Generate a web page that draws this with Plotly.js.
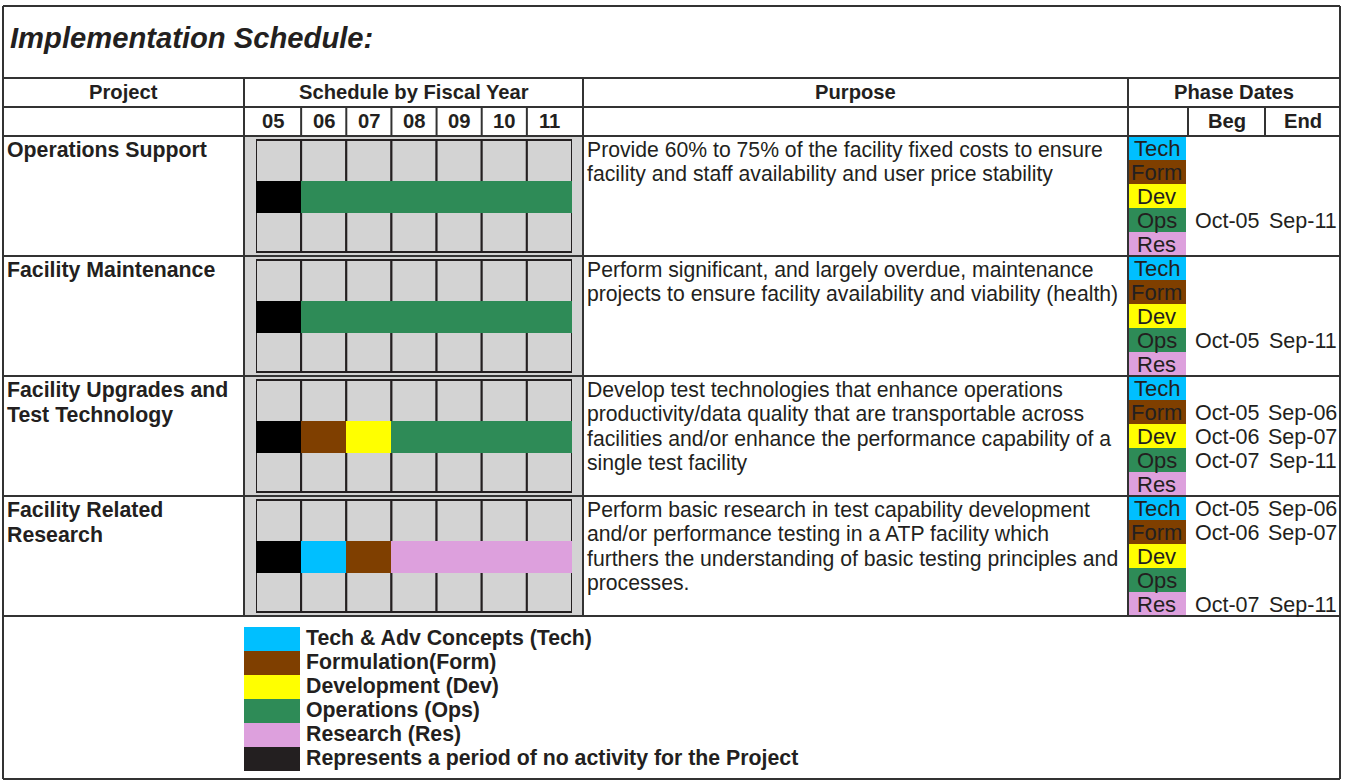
<!DOCTYPE html>
<html>
<head>
<meta charset="utf-8">
<script src="https://cdn.plot.ly/plotly-3.0.1.min.js"></script>
<style>html,body{margin:0;padding:0;background:#fff;}#chart{width:1346px;height:780px;}</style>
</head>
<body>
<div id="chart"></div>
<script>
// ---------------- DATA ----------------
const chartTitle = "Implementation Schedule:";
const fiscalYears = ["05", "06", "07", "08", "09", "10", "11"];
const projectNames = [
  ["Operations Support"],
  ["Facility Maintenance"],
  ["Facility Upgrades and", "Test Technology"],
  ["Facility Related", "Research"]
];
const purposes = [
  ["Provide 60% to 75% of the facility fixed costs to ensure",
   "facility and staff availability and user price stability"],
  ["Perform significant, and largely overdue, maintenance",
   "projects to ensure facility availability and viability (health)"],
  ["Develop test technologies that enhance operations",
   "productivity/data quality that are transportable across",
   "facilities and/or enhance the performance capability of a",
   "single test facility"],
  ["Perform basic research in test capability development",
   "and/or performance testing in a ATP facility which",
   "furthers the understanding of basic testing principles and",
   "processes."]
];
const phaseCodes = ["Tech", "Form", "Dev", "Ops", "Res"];
const phaseNames = ["Tech & Adv Concepts (Tech)", "Formulation(Form)", "Development (Dev)",
                    "Operations (Ops)", "Research (Res)"];
const noActivityLabel = "Represents a period of no activity for the Project";
// Phase dates per project (order: Tech, Form, Dev, Ops, Res)
const begDates = [
  ["", "", "", "Oct-05", ""],
  ["", "", "", "Oct-05", ""],
  ["", "Oct-05", "Oct-06", "Oct-07", ""],
  ["Oct-05", "Oct-06", "", "", "Oct-07"]
];
const endDates = [
  ["", "", "", "Sep-11", ""],
  ["", "", "", "Sep-11", ""],
  ["", "Sep-06", "Sep-07", "Sep-11", ""],
  ["Sep-06", "Sep-07", "", "", "Sep-11"]
];
const headers = {project: "Project", schedule: "Schedule by Fiscal Year", purpose: "Purpose",
                 phaseDates: "Phase Dates", beg: "Beg", end: "End"};

// ---------------- STYLE / LAYOUT CONSTANTS ----------------
const W = 1346, H = 780;
const FONT = "Arial, 'Liberation Sans', sans-serif";
const TXT = "#231F20";
const LINE = "#333333";
const phaseColors = ["#00BFFF", "#7F3F00", "#FFFF00", "#2E8B57", "#DDA0DD"];
const noActColor = "#000000";
const noActLegendColor = "#231F20";
const cellGray = "#D3D3D3";
const FS = {title: 29.2, header: 20.2, project: 21.3, purpose: 21.2, code: 22, date: 21.5, legend: 21.3};
const L = {
  frameL: 3, frameR: 1340, frameT: 6, frameB: 779,
  hdr1: 78, hdr2: 107, bodyTop: 136, rowH: 120,
  colSched: 244, gridL: 256, gridR: 572, colPurpose: 583, colPhase: 1128,
  colBeg: 1188, colEnd: 1265,
  labelL: 1129, labelW: 57, labelH: 24,
  legendTop: 627, legendH: 24, legendSwL: 244, legendSwW: 56, legendTxt: 304
};
const nRows = projectNames.length;
const bodyBottom = L.bodyTop + nRows * L.rowH;

// ---------------- DERIVED ----------------
function pad2(n) { return (n < 10 ? "0" : "") + n; }
function begIndex(s) { return fiscalYears.indexOf(pad2(parseInt(s.split("-")[1], 10) + 1)); }
function endIndex(s) { return fiscalYears.indexOf(s.split("-")[1]) + 1; }

const shapes = [];
const annotations = [];
function hline(y, x0, x1) { shapes.push({type: "line", xref: "x", yref: "y", x0: x0, x1: x1, y0: y, y1: y, line: {color: LINE, width: 2}, layer: "above"}); }
function vline(x, y0, y1) { shapes.push({type: "line", xref: "x", yref: "y", x0: x, x1: x, y0: y0, y1: y1, line: {color: LINE, width: 2}, layer: "above"}); }
function text(t, x, y, opts) {
  opts = opts || {};
  annotations.push({
    xref: "x", yref: "y", x: x, y: y, text: t, showarrow: false,
    xanchor: opts.xanchor || "center", yanchor: "middle",
    font: {family: FONT, size: opts.size || 18, color: opts.color || TXT}
  });
}

// gray schedule backgrounds
for (let i = 0; i < nRows; i++) {
  const top = L.bodyTop + i * L.rowH;
  shapes.push({type: "rect", xref: "x", yref: "y", x0: L.colSched, x1: L.colPurpose,
    y0: top, y1: top + L.rowH, fillcolor: cellGray, line: {width: 0}, layer: "below"});
}

// table lines
hline(L.frameT, L.frameL, L.frameR);
hline(L.frameB, L.frameL, L.frameR);
vline(L.frameL, L.frameT, L.frameB);
vline(L.frameR, L.frameT, L.frameB);
hline(L.hdr1, L.frameL, L.frameR);
hline(L.hdr2, L.frameL, L.frameR);
for (let i = 0; i <= nRows; i++) hline(L.bodyTop + i * L.rowH, L.frameL, L.frameR);
[L.colSched, L.colPurpose, L.colPhase].forEach(x => vline(x, L.hdr1, bodyBottom));
const cellW = (L.gridR - L.gridL) / fiscalYears.length;
for (let k = 1; k < fiscalYears.length; k++) vline(L.gridL + k * cellW, L.hdr2, L.bodyTop);
vline(L.colBeg, L.hdr2, L.bodyTop);
vline(L.colEnd, L.hdr2, L.bodyTop);

// title and headers
text("<b><i>" + chartTitle + "</i></b>", 8, 38, {xanchor: "left", size: FS.title});
const h1y = (L.hdr1 + L.hdr2) / 2 - 1, h2y = (L.hdr2 + L.bodyTop) / 2 - 1;
const hs = {size: FS.header};
text("<b>" + headers.project + "</b>", (L.frameL + L.colSched) / 2, h1y, hs);
text("<b>" + headers.schedule + "</b>", (L.colSched + L.colPurpose) / 2, h1y, hs);
text("<b>" + headers.purpose + "</b>", (L.colPurpose + L.colPhase) / 2, h1y, hs);
text("<b>" + headers.phaseDates + "</b>", (L.colPhase + L.frameR) / 2, h1y, hs);
fiscalYears.forEach((fy, k) => {
  const cx = k === 0 ? (L.colSched + L.gridL + cellW) / 2 : L.gridL + (k + 0.5) * cellW;
  text("<b>" + fy + "</b>", cx, h2y, hs);
});
text("<b>" + headers.beg + "</b>", (L.colBeg + L.colEnd) / 2, h2y, hs);
text("<b>" + headers.end + "</b>", (L.colEnd + L.frameR) / 2, h2y, hs);

// body rows text
const labelY = [], labelBase = [], labelLen = [], labelCol = [];
for (let i = 0; i < nRows; i++) {
  const top = L.bodyTop + i * L.rowH;
  projectNames[i].forEach((ln, j) => text("<b>" + ln + "</b>", 5, top + 14 + j * 25, {xanchor: "left", size: FS.project}));
  purposes[i].forEach((ln, j) => text(ln, 585, top + 14 + j * 24.3, {xanchor: "left", size: FS.purpose}));
  phaseCodes.forEach((c, k) => {
    const cy = top + L.labelH / 2 + k * L.labelH;
    labelY.push(cy); labelBase.push(L.labelL); labelLen.push(L.labelW); labelCol.push(phaseColors[k]);
    text(c, L.labelL + L.labelW / 2 - 1, cy, {size: FS.code});
    if (begDates[i][k]) text(begDates[i][k], (L.colBeg + L.colEnd) / 2 + 1, cy + 1, {size: FS.date});
    if (endDates[i][k]) text(endDates[i][k], (L.colEnd + L.frameR) / 2, cy + 1, {size: FS.date});
  });
}

// legend
const legLabels = phaseNames.concat([noActivityLabel]);
const legColors = phaseColors.concat([noActLegendColor]);
const legY = legLabels.map((_, k) => L.legendTop + L.legendH / 2 + k * L.legendH);
legLabels.forEach((t, k) => text("<b>" + t + "</b>", L.legendTxt, legY[k] - 1, {xanchor: "left", size: FS.legend}));

// schedule grid cells (year index axis)
const gridBase = [], gridY = [];
for (let i = 0; i < nRows; i++) for (let k = 0; k < fiscalYears.length; k++) { gridBase.push(k); gridY.push(i + 0.5); }
// phase bars
const barBase = [], barLen = [], barY = [], barCol = [];
for (let i = 0; i < nRows; i++) {
  let first = fiscalYears.length;
  phaseCodes.forEach((c, k) => {
    if (!begDates[i][k]) return;
    const s = begIndex(begDates[i][k]), e = endIndex(endDates[i][k]);
    first = Math.min(first, s);
    barBase.push(s); barLen.push(e - s); barY.push(i + 61 / 120); barCol.push(phaseColors[k]);
  });
  if (first > 0) { barBase.push(0); barLen.push(first); barY.push(i + 61 / 120); barCol.push(noActColor); }
}

const traces = [
  {type: "bar", orientation: "h", xaxis: "x2", yaxis: "y2", base: gridBase, x: gridBase.map(() => 1), y: gridY,
   width: 112 / 120, marker: {color: cellGray, line: {color: "#231F20", width: 2}}, cliponaxis: false, hoverinfo: "skip"},
  {type: "bar", orientation: "h", xaxis: "x2", yaxis: "y2", base: barBase, x: barLen, y: barY,
   width: 32 / 120, marker: {color: barCol, line: {width: 0}}, cliponaxis: false, hoverinfo: "skip"},
  {type: "bar", orientation: "h", xaxis: "x", yaxis: "y", base: labelBase, x: labelLen, y: labelY,
   width: L.labelH, marker: {color: labelCol, line: {width: 0}}, hoverinfo: "skip"},
  {type: "bar", orientation: "h", xaxis: "x", yaxis: "y", base: legY.map(() => L.legendSwL), x: legY.map(() => L.legendSwW), y: legY,
   width: L.legendH, marker: {color: legColors, line: {width: 0}}, hoverinfo: "skip"}
];

const hidden = {showgrid: false, zeroline: false, showticklabels: false, ticks: "", showline: false, fixedrange: true};
const layout = {
  width: W, height: H, margin: {l: 0, r: 0, t: 0, b: 0, pad: 0},
  paper_bgcolor: "#ffffff", plot_bgcolor: "rgba(0,0,0,0)",
  showlegend: false, barmode: "overlay", bargap: 0,
  xaxis: Object.assign({range: [0, W], domain: [0, 1]}, hidden),
  yaxis: Object.assign({range: [H, 0], domain: [0, 1]}, hidden),
  xaxis2: Object.assign({range: [0, fiscalYears.length], domain: [L.gridL / W, L.gridR / W], anchor: "y2"}, hidden),
  yaxis2: Object.assign({range: [nRows, 0], domain: [(H - bodyBottom) / H, (H - L.bodyTop) / H], anchor: "x2"}, hidden),
  shapes: shapes, annotations: annotations
};
Plotly.newPlot("chart", traces, layout, {staticPlot: true, displayModeBar: false});
</script>
</body>
</html>
